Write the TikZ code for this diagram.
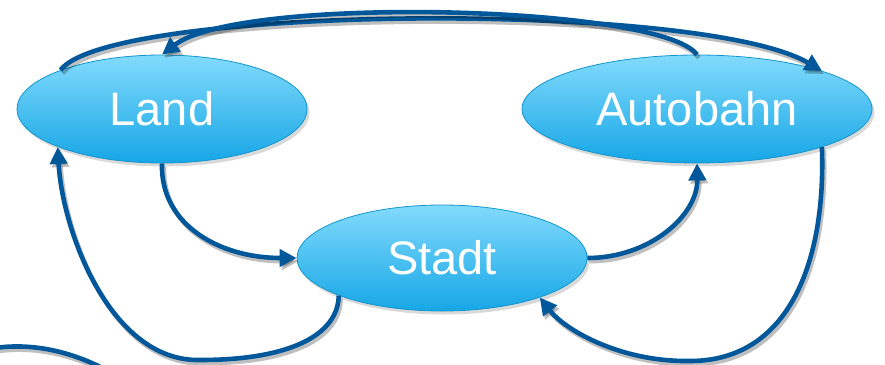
\documentclass[tikz,border=0pt]{standalone}
\usepackage{fontspec}
\setmainfont{Liberation Sans}
\usetikzlibrary{shapes.geometric,arrows.meta,shadows}
\definecolor{edgeblue}{RGB}{0,88,155}
\definecolor{elltop}{RGB}{130,219,252}
\definecolor{ellbot}{RGB}{22,166,230}
\definecolor{ellborder}{RGB}{18,150,205}
\tikzset{
  state/.style={ellipse, draw=ellborder, line width=0.8pt, top color=elltop, bottom color=ellbot,
    inner sep=0pt, minimum height=108pt, text=white, font=\fontsize{47}{52}\selectfont,
    drop shadow={shadow xshift=2.5pt, shadow yshift=-3.5pt, opacity=0.3}},
  conn/.style={draw=edgeblue, line width=4.6pt,
    preaction={draw=black, opacity=0.25, line width=4.6pt, transform canvas={shift={(2pt,-3.2pt)}}}},
  edge/.style={conn, -{Triangle[length=17pt,width=17pt]}}
}
\begin{document}
\begin{tikzpicture}[x=1pt,y=-1pt]
\useasboundingbox (0,0) rectangle (885,364);
\node[state, minimum width=290pt] (land) at (162,109) {Land};
\node[state, minimum width=350pt] (autobahn) at (697,109) {Autobahn};
\node[state, minimum width=290pt, minimum height=106pt] (stadt) at (442,258) {Stadt};
% top arcs
\draw[edge] (land.159) .. controls (110,5) and (700,0) .. (autobahn.17);
\draw[edge] (autobahn.north) .. controls (660,5) and (240,-5) .. (land.north);
% inner arcs
\draw[edge] (land.south) .. controls (160,225) and (220,258) .. (stadt.west);
\draw[edge] (stadt.east) .. controls (650,258) and (698,215) .. (autobahn.south);
% lower loops
\coordinate (lb) at (200,360);
\draw[edge] (stadt.200) .. controls (338,335) and (290,360) .. (lb)
  .. controls (110,362) and (62,230) .. (land.200);
\coordinate (rb) at (690,361);
\draw[edge] (autobahn.343) .. controls (826,260) and (790,361) .. (rb)
  .. controls (620,362) and (565,330) .. (stadt.338);
% partial arc at bottom left
\coordinate (pa) at (-5,348);
\coordinate (pb) at (110,372);
\draw[conn] (pa) .. controls (30,343) and (70,350) .. (pb);
\end{tikzpicture}
\end{document}
